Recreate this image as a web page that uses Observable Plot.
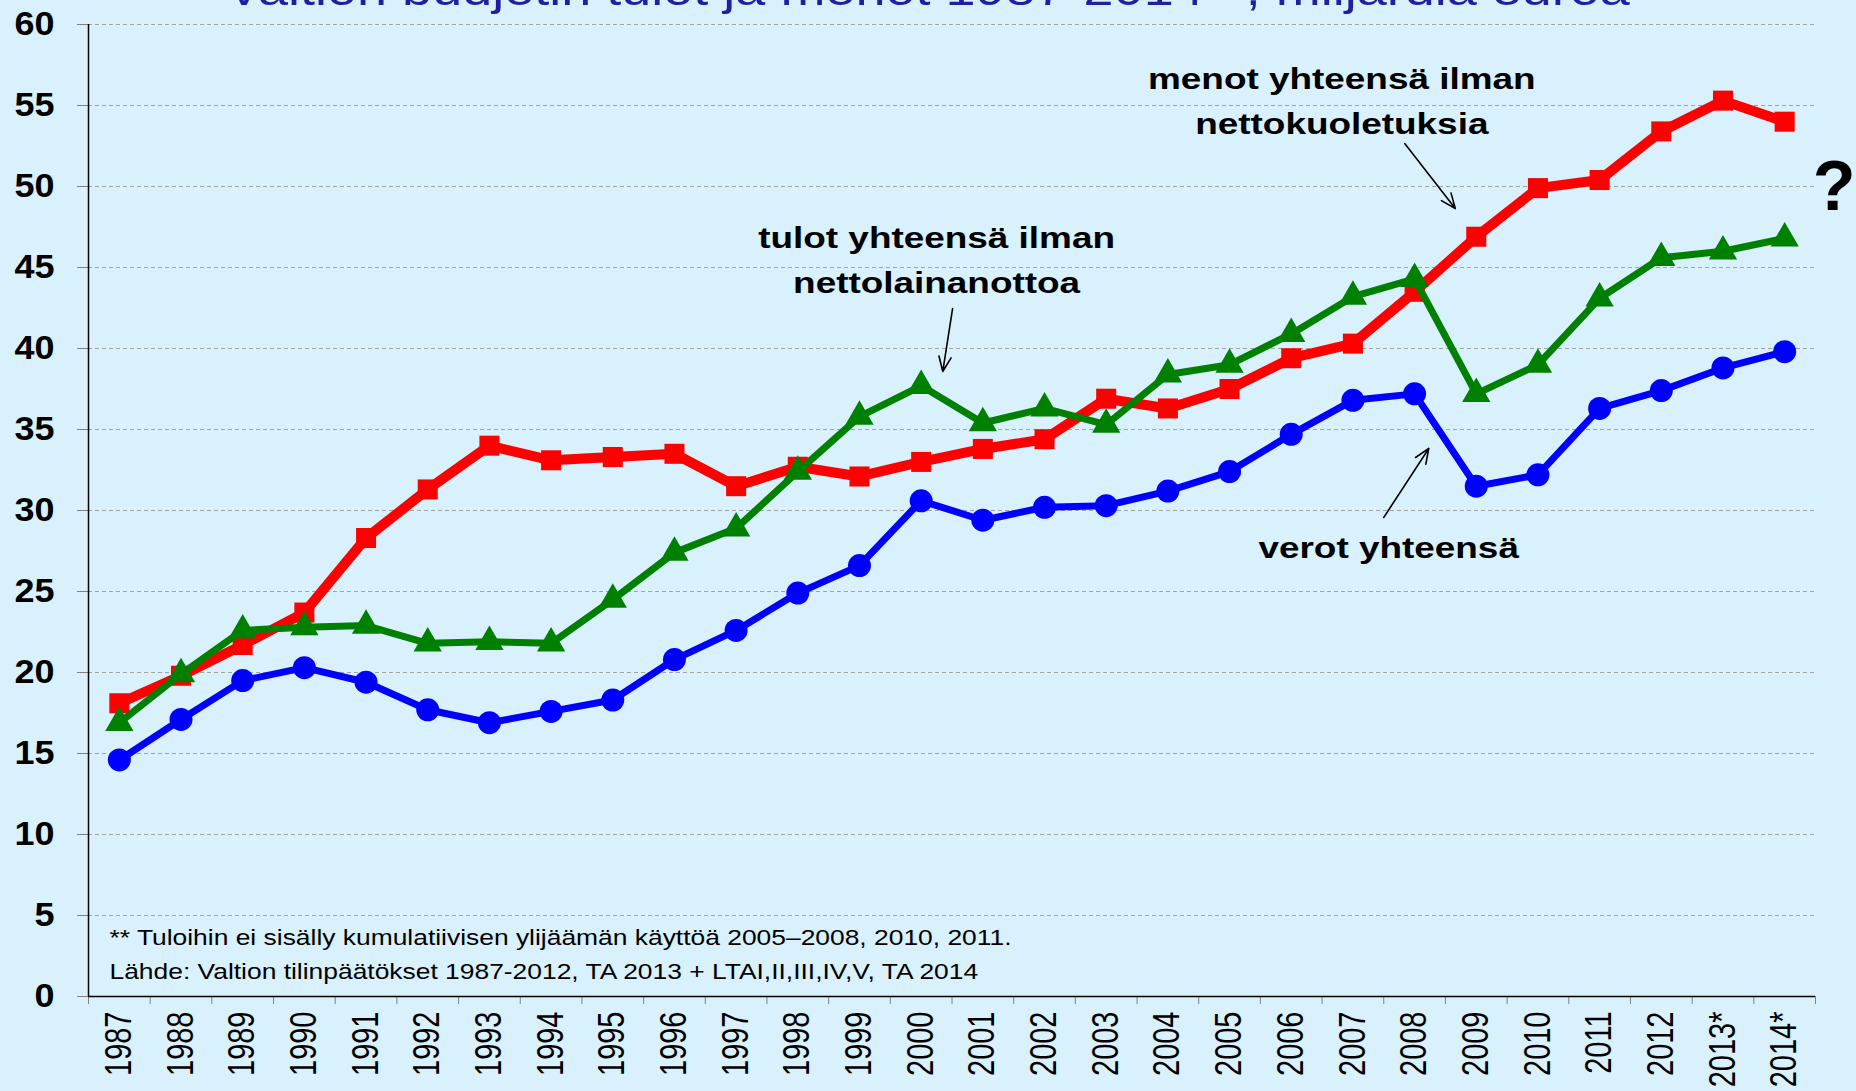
<!DOCTYPE html>
<html>
<head>
<meta charset="utf-8">
<script src="https://cdn.jsdelivr.net/npm/d3@7"></script>
<script src="https://cdn.jsdelivr.net/npm/@observablehq/plot@0.6"></script>
<style>
  html, body { margin: 0; padding: 0; background: #d8f1fd; overflow: hidden; }
  #wrap { position: relative; width: 1856px; height: 1091px; overflow: hidden; }
  #title { position: absolute; left: 0; top: -33px; width: 1856px; text-align: center;
           font: 45px/45px "Liberation Sans", Arial, sans-serif; color: #1f1fa0; white-space: nowrap; }
  #title span { display: inline-block; transform: scaleX(1.2); }
  #chart { position: absolute; left: 0; top: 0; }
</style>
</head>
<body>
<div id="wrap">
  <div id="title"><span>Valtion budjetin tulot ja menot 1987-2014**, miljardia euroa</span></div>
  <div id="chart"></div>
</div>
<script>
// ---- data ----
const years = [1987,1988,1989,1990,1991,1992,1993,1994,1995,1996,1997,1998,1999,2000,
               2001,2002,2003,2004,2005,2006,2007,2008,2009,2010,2011,2012,2013,2014];
const yearLabels = ["1987","1988","1989","1990","1991","1992","1993","1994","1995","1996","1997","1998","1999","2000",
                    "2001","2002","2003","2004","2005","2006","2007","2008","2009","2010","2011","2012","2013*","2014*"];
// menot yhteensä ilman nettokuoletuksia
const menot = [18.1,19.8,21.7,23.7,28.3,31.3,34.0,33.1,33.3,33.5,31.5,32.7,32.1,33.0,
               33.8,34.4,36.9,36.3,37.5,39.4,40.3,43.5,46.9,49.9,50.4,53.4,55.3,54.0];
// tulot yhteensä ilman nettolainanottoa
const tulot = [16.9,19.9,22.6,22.8,22.9,21.8,21.9,21.8,24.5,27.4,28.9,32.4,35.8,37.7,
               35.4,36.3,35.3,38.4,39.0,40.9,43.2,44.3,37.2,39.0,43.1,45.6,46.0,46.8];
// verot yhteensä
const verot = [14.6,17.1,19.5,20.3,19.4,17.7,16.9,17.6,18.3,20.8,22.6,24.9,26.6,30.6,
               29.4,30.2,30.3,31.2,32.4,34.7,36.8,37.2,31.5,32.2,36.3,37.4,38.8,39.8];
const yTicks = [0,5,10,15,20,25,30,35,40,45,50,55,60];

// annotations (anchored in data units: year, value)
const annoLines = ["tulot yhteensä ilman", "nettolainanottoa", "menot yhteensä ilman", "nettokuoletuksia", "verot yhteensä"];
const annoYear  = [2000.25, 2000.25, 2006.82, 2006.82, 2007.58];
const annoValue = [46.23, 43.40, 55.99, 53.21, 27.04];
const arrowYear1  = [2000.51, 2007.84, 2007.50];
const arrowValue1 = [42.47, 52.65, 29.57];
const arrowYear2  = [2000.35, 2008.66, 2008.23];
const arrowValue2 = [38.58, 48.64, 33.83];
const questionMark = ["?"];
const qYear = [2014.8], qValue = [48.52];
const footLines = ["** Tuloihin ei sisälly kumulatiivisen ylijäämän käyttöä 2005–2008, 2010, 2011.",
                   "Lähde: Valtion tilinpäätökset 1987-2012, TA 2013 + LTAI,II,III,IV,V, TA 2014"];
const footYear = [1986.84, 1986.84];
const footValue = [3.15, 1.11];

// ---- build ----
const data = years.map((year, i) => ({year, menot: menot[i], tulot: tulot[i], verot: verot[i]}));
const boundaries = [...years.map(y => y - 0.5), years[years.length - 1] + 0.5];

const chart = Plot.plot({
  width: 1856, height: 1091,
  marginLeft: 88, marginRight: 41, marginTop: 24, marginBottom: 95,
  style: {background: "transparent", fontFamily: "'Liberation Sans', Arial, sans-serif", overflow: "visible"},
  x: {type: "linear", domain: [boundaries[0], boundaries[boundaries.length - 1]]},
  y: {domain: [0, 60]},
  marks: [
    Plot.gridY(yTicks.filter(d => d > 0), {stroke: "#a3a3a3", strokeOpacity: 1, strokeDasharray: "4,3", strokeWidth: 1}),
    Plot.axisY(yTicks, {tickSize: 11, tickPadding: 23, fontSize: 33, fontWeight: "bold", stroke: "#808080",
                        fill: "black", label: null, tickFormat: d => String(d)}),
    Plot.axisX(boundaries, {tickSize: 8, stroke: "#808080", tickFormat: () => "", label: null}),
    Plot.axisX(years, {tickSize: 0, tickPadding: 15, tickRotate: -90, fontSize: 29, fill: "black",
                       tickFormat: d => yearLabels[years.indexOf(d)], label: null}),
    Plot.ruleY([0], {stroke: "black", strokeWidth: 1.5}),
    Plot.ruleX([boundaries[0]], {stroke: "black", strokeWidth: 1.5}),

    Plot.line(data, {x: "year", y: "menot", stroke: "#ff0000", strokeWidth: 10}),
    Plot.dot(data, {x: "year", y: "menot", symbol: "square", r: 11.3, fill: "#ff0000"}),
    Plot.line(data, {x: "year", y: "tulot", stroke: "#008000", strokeWidth: 7}),
    Plot.dot(data, {x: "year", y: "tulot", symbol: "triangle", r: 10.5, fill: "#008000"}),
    Plot.line(data, {x: "year", y: "verot", stroke: "#0000ff", strokeWidth: 7}),
    Plot.dot(data, {x: "year", y: "verot", symbol: "circle", r: 11.5, fill: "#0000ff"}),

    Plot.arrow(arrowYear1, {x1: (d, i) => arrowYear1[i], y1: (d, i) => arrowValue1[i],
                            x2: (d, i) => arrowYear2[i], y2: (d, i) => arrowValue2[i],
                            stroke: "black", strokeWidth: 1.6, headLength: 15, headAngle: 45}),
    Plot.text(annoLines, {x: (d, i) => annoYear[i], y: (d, i) => annoValue[i], text: d => d,
                          fontSize: 30, fontWeight: "bold", fill: "black", lineAnchor: "bottom"}),
    Plot.text(questionMark, {x: (d, i) => qYear[i], y: (d, i) => qValue[i], text: d => d,
                             fontSize: 70, fontWeight: "bold", fill: "black", lineAnchor: "bottom"}),
    Plot.text(footLines, {x: (d, i) => footYear[i], y: (d, i) => footValue[i], text: d => d,
                          fontSize: 22, fill: "black", textAnchor: "start", lineAnchor: "bottom"})
  ]
});
document.getElementById("chart").append(chart);

// widen glyphs horizontally like the reference's stretched typography
function stretch(el, k) {
  const L = el.getComputedTextLength();
  el.setAttribute("textLength", L * k);
  el.setAttribute("lengthAdjust", "spacingAndGlyphs");
}
chart.querySelectorAll("text").forEach(t => {
  const s = t.textContent;
  if (annoLines.includes(s)) stretch(t, 1.23);
  else if (footLines.includes(s)) stretch(t, 1.2);
});
chart.querySelectorAll('g[aria-label="y-axis tick label"] text').forEach(t => stretch(t, 1.09));
chart.querySelectorAll('g[aria-label="x-axis tick label"] text').forEach(t => {
  const tr = t.getAttribute("transform") || "";
  t.setAttribute("transform", tr + " scale(1,1.25)");
});
</script>
</body>
</html>
